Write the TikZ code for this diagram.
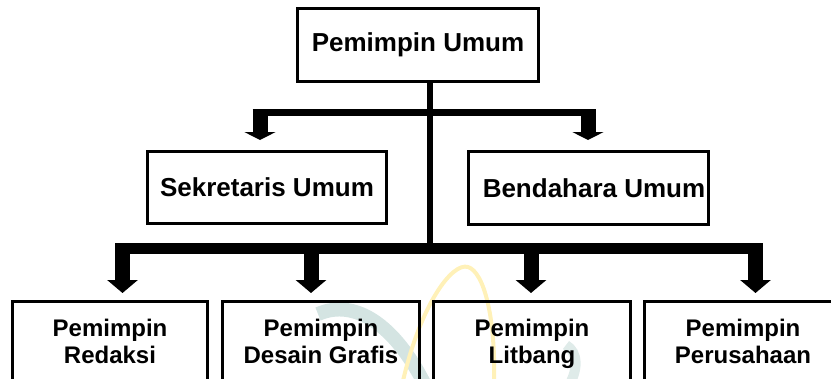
\documentclass[tikz,border=0pt]{standalone}
\usepackage{fontspec}
\setmainfont{Liberation Sans}
\usepackage{tikz}
\usetikzlibrary{arrows.meta,positioning,calc}
\definecolor{inkblack}{HTML}{000000}
\definecolor{marktealgray}{HTML}{C9DDDB}
\definecolor{markyellow}{HTML}{FFF1B8}

\begin{document}
\begin{tikzpicture}[x=1pt, y=-1pt,
    unitbox/.style={draw=inkblack, line width=3pt, align=center, inner sep=0pt,
        font=\fontsize{26}{30}\selectfont\bfseries},
    subbox/.style={draw=inkblack, line width=3pt, align=center, inner sep=0pt,
        minimum width=195pt, minimum height=79pt,
        font=\fontsize{24}{27}\selectfont\bfseries},
    stemline/.style={draw=inkblack, line width=6pt},
    upbar/.style={draw=inkblack, line width=7pt},
    lowbar/.style={draw=inkblack, line width=10.5pt},
    upshaft/.style={draw=inkblack, line width=15pt, shorten >=10pt,
        -{Triangle[width=31pt,length=8pt]}},
    lowshaft/.style={draw=inkblack, line width=15pt, shorten >=7pt,
        -{Triangle[width=30pt,length=13pt]}}]
    % Canvas
    \useasboundingbox (0,0) rectangle (831,378);

    % Faint logo in the background
    \draw[marktealgray, line width=14pt, opacity=0.8] (318,314) .. controls (355,298) and (395,325) .. (425,385);
    \draw[marktealgray, line width=10pt, opacity=0.6] (565,392) .. controls (580,370) and (578,352) .. (566,345);
    \draw[markyellow, line width=4pt] (402,385) .. controls (420,305) and (452,262) .. (468,267) .. controls (484,272) and (496,318) .. (494,385);

    % Top
    \node[unitbox, minimum width=241pt, minimum height=73pt] (umum) at (418,45) {Pemimpin Umum};

    % Second row
    \node[unitbox, minimum width=239pt, minimum height=72pt] (sekretaris) at (267,187.5) {Sekretaris Umum};
    \node[unitbox, minimum width=240pt, minimum height=73pt] (bendahara) at (588.5,188) {\hspace*{11pt}Bendahara Umum};

    % Third row
    \node[subbox] (redaksi) at (110,341) {Pemimpin\\Redaksi};
    \node[subbox, minimum width=197pt] (desain) at (321,341) {Pemimpin\\Desain Grafis};
    \node[subbox, minimum width=197pt] (litbang) at (532,341) {Pemimpin\\\smash{Litbang}};
    \node[subbox, minimum width=197pt] (usaha) at (743,341) {Pemimpin\\Perusahaan};

    % Junctions
    \coordinate (hub) at (430,248);
    \coordinate (upL) at (260,109);
    \coordinate (upR) at (588,109);
    \coordinate (lowA) at (122.5,243);
    \coordinate (lowB) at (311,243);
    \coordinate (lowC) at (531,243);
    \coordinate (lowD) at (755.5,243);

    % Stem and bars
    \draw[stemline] (umum.south -| hub) -- (hub);
    \draw[upbar] ($(upL)+(-7.5,3.5)$) -- ($(upR)+(7.5,3.5)$);
    \draw[lowbar] ($(lowA)+(-7.5,5.25)$) -- ($(lowD)+(7.5,5.25)$);

    % Arrows
    \draw[upshaft] (upL) -- (sekretaris.north -| upL);
    \draw[upshaft] (upR) -- (bendahara.north -| upR);
    \draw[lowshaft] (lowA) -- (redaksi.north -| lowA);
    \draw[lowshaft] (lowB) -- (desain.north -| lowB);
    \draw[lowshaft] (lowC) -- (litbang.north -| lowC);
    \draw[lowshaft] (lowD) -- (usaha.north -| lowD);
\end{tikzpicture}
\end{document}
